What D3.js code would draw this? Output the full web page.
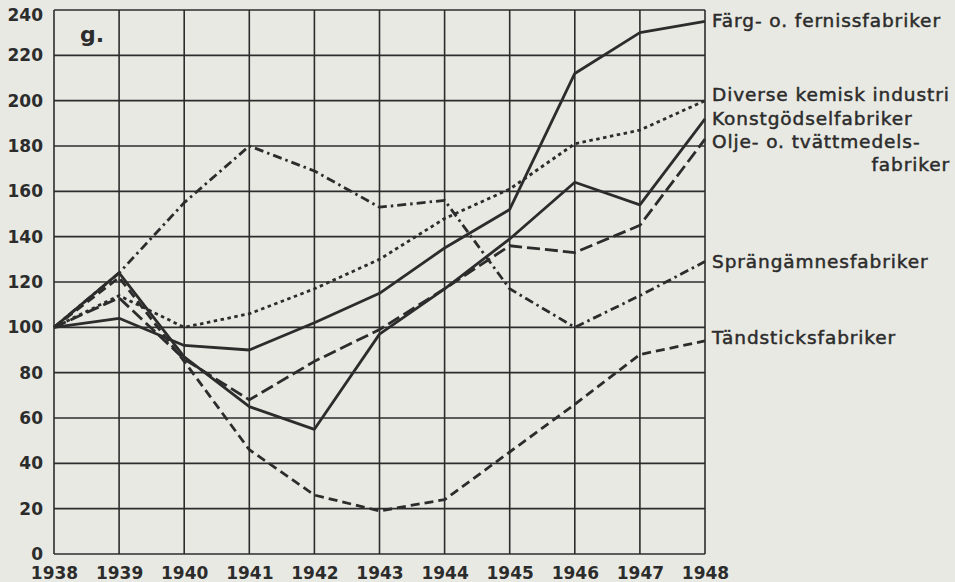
<!DOCTYPE html>
<html><head><meta charset="utf-8">
<script src="https://cdn.jsdelivr.net/npm/d3@7/dist/d3.min.js"></script>
<style>
html,body{margin:0;padding:0;background:#e9e9e3;}
svg{display:block;}
</style></head>
<body>
<svg id="chart" width="955" height="582"></svg>
<script>
const years = [1938,1939,1940,1941,1942,1943,1944,1945,1946,1947,1948];
const yTicks = [0,20,40,60,80,100,120,140,160,180,200,220,240];
const seriesNames = ["Färg- o. fernissfabriker","Diverse kemisk industri","Konstgödselfabriker","Olje- o. tvättmedelsfabriker","Sprängämnesfabriker","Tändsticksfabriker"];
const fargValues      = [100,104,92,90,102,115,135,152,212,230,235];
const diverseValues   = [100,114,100,106,117,130,148,161,181,187,200];
const konstValues     = [100,124,87,65,55,97,117,139,164,154,192];
const oljeValues      = [100,113,86,68,85,99,117,136,133,145,183];
const sprangValues    = [100,124,155,180,169,153,156,117,100,114,129];
const tandValues      = [100,122,85,46,26,19,24,45,66,88,94];
const panelLabel = "g.";

const W = 955, H = 582;
const m = {left:54, right:705, top:10, bottom:554};
const ink = "#2c2c2c";
const svg = d3.select("#chart");
svg.append("rect").attr("width",W).attr("height",H).attr("fill","#e9e9e3");

const x = d3.scaleLinear().domain([1938,1948]).range([m.left,m.right]);
const y = d3.scaleLinear().domain([0,240]).range([m.bottom,m.top]);

// grid
const g = svg.append("g");
g.selectAll("line.h").data(yTicks).join("line")
  .attr("x1",m.left).attr("x2",m.right)
  .attr("y1",d=>y(d)).attr("y2",d=>y(d))
  .attr("stroke",ink).attr("stroke-width",1.6);
g.selectAll("line.v").data(years).join("line")
  .attr("y1",m.top).attr("y2",m.bottom)
  .attr("x1",d=>x(d)).attr("x2",d=>x(d))
  .attr("stroke",ink).attr("stroke-width",1.6);

// axes (labels only)
const fontTick = "'DejaVu Sans', sans-serif";
const yAxis = d3.axisLeft(y).tickValues(yTicks).tickSize(0).tickPadding(11);
const ya = svg.append("g").attr("transform",`translate(${m.left},0)`).call(yAxis);
ya.select(".domain").remove();
ya.selectAll("text").attr("font-family",fontTick).attr("font-weight","bold")
  .attr("font-size",17).attr("fill",ink)
  .attr("dy", d => d===240 ? "0.62em" : "0.32em");

const xAxis = d3.axisBottom(x).tickValues(years).tickFormat(d3.format("d")).tickSize(0).tickPadding(13);
const xa = svg.append("g").attr("transform",`translate(0,${m.bottom})`).call(xAxis);
xa.select(".domain").remove();
xa.selectAll("text").attr("font-family",fontTick).attr("font-weight","bold")
  .attr("font-size",17).attr("fill",ink);

// series
const series = [
  {name:seriesNames[0], values:fargValues},
  {name:seriesNames[1], values:diverseValues},
  {name:seriesNames[2], values:konstValues},
  {name:seriesNames[3], values:oljeValues},
  {name:seriesNames[4], values:sprangValues},
  {name:seriesNames[5], values:tandValues}
];
const styles = [
  {dash:null, w:2.8, dy:-1},
  {dash:"3.5,3.5", w:2.8, dy:-6},
  {dash:null, w:2.8, dy:0},
  {dash:"13,5", w:2.8, dy:2},
  {dash:"9,4,2.5,4", w:2.8, dy:0},
  {dash:"9,5", w:2.8, dy:-3}
];
const line = d3.line().x((d,i)=>x(years[i])).y(d=>y(d));
series.forEach((s,k)=>{
  svg.append("path").datum(s.values)
    .attr("d",line).attr("fill","none")
    .attr("stroke",ink).attr("stroke-width",styles[k].w)
    .attr("stroke-linejoin","round")
    .attr("stroke-dasharray",styles[k].dash);
});

// right labels
const fontLab = "'DejaVu Sans', sans-serif";
const labSize = 18.5;
function lab(xx, yy, txt, anchor){
  return svg.append("text").attr("font-family",fontLab)
    .attr("font-size",labSize).attr("fill",ink)
    .attr("stroke",ink).attr("stroke-width",0.5)
    .attr("letter-spacing",0.9)
    .attr("dominant-baseline","central")
    .attr("text-anchor",anchor||"start")
    .attr("x",xx).attr("y",yy).text(txt);
}
series.forEach((s,k)=>{
  const last = s.values[s.values.length-1];
  const yy = y(last) + styles[k].dy;
  if (s.name.startsWith("Olje")) {
    lab(m.right+7, yy, "Olje- o. tvättmedels-");
    lab(950, yy+23, "fabriker", "end");
  } else {
    lab(m.right+7, yy, s.name);
  }
});

svg.append("text").attr("x",80).attr("y",42).attr("font-family","'DejaVu Sans', sans-serif")
  .attr("font-weight","bold").attr("font-size",22).attr("fill",ink).text(panelLabel);
</script>
</body></html>
